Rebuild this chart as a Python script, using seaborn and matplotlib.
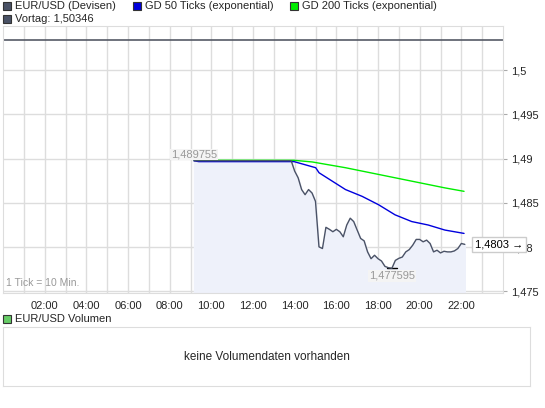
import numpy as np
import pandas as pd
import seaborn as sns
import matplotlib.pyplot as plt
from matplotlib.patches import Rectangle
from matplotlib.ticker import FuncFormatter

# Kurs EUR/USD, 10-Minuten-Ticks ab 09:10
start_stunde = 9 + 10 / 60
kurs = [1.489755] * 29 + [
    1.48859, 1.48783, 1.48650, 1.48592, 1.48650, 1.48611, 1.48516, 1.48002,
    1.47983, 1.48223, 1.48200, 1.48173, 1.48200, 1.48173, 1.48116, 1.48249,
    1.48326, 1.48288, 1.48192, 1.48097, 1.48070, 1.47945, 1.47868, 1.47907,
    1.47868, 1.47842, 1.47781, 1.47766, 1.477595, 1.47849, 1.47872, 1.47887,
    1.47945, 1.47971, 1.48021, 1.48086, 1.48086, 1.48059, 1.48078, 1.48040,
    1.47945, 1.47964, 1.47933, 1.47952, 1.47945, 1.47945, 1.47956, 1.47983,
    1.48040, 1.4803,
]
gd50_zeit = [9.17, 9.4, 13.97, 15.01, 15.17, 16.44, 17.24, 18.03, 18.82, 19.62, 20.41, 21.21, 22.13]
gd50_wert = [1.48975, 1.48966, 1.48966, 1.48897, 1.48840, 1.48650, 1.48573, 1.48478,
             1.48364, 1.48288, 1.48249, 1.48192, 1.48154]
gd200_zeit = [9.17, 13.97, 14.85, 16.44, 18.03, 19.62, 21.21, 22.13]
gd200_wert = [1.48981, 1.48981, 1.48962, 1.48897, 1.48821, 1.48745, 1.48669, 1.48630]
vortag = 1.50346
y_ticks = [1.475, 1.48, 1.485, 1.49, 1.495, 1.5]
x_ticks = list(range(2, 24, 2))

df = pd.DataFrame({"Zeit": start_stunde + np.arange(len(kurs)) / 6, "Kurs": kurs})

sns.set_style("white")
plt.rcParams["font.family"] = ["Liberation Sans", "DejaVu Sans"]
W, H = 545, 408
fig = plt.figure(figsize=(W / 100, H / 100), dpi=100)

def box(l, t, r, b):
    return [l / W, 1 - b / H, (r - l) / W, (b - t) / H]

ax = fig.add_axes(box(3, 26, 503, 293))
ax.set_xlim(0, 24)
ax.set_ylim(1.4748, 1.5050)
for h in range(1, 24):
    ax.axvline(h, color="#dddddd", lw=1, zorder=0)
for y in y_ticks:
    ax.axhline(y, color="#dddddd", lw=1, zorder=0)
ax.fill_between(df["Zeit"], df["Kurs"], 1.4748, color="#eef1fa", zorder=1)
ax.axhline(vortag, color="#555a66", lw=1.2, zorder=2)
sns.lineplot(x=gd200_zeit, y=gd200_wert, color="#00ee00", lw=1, ax=ax, zorder=3)
sns.lineplot(x=gd50_zeit, y=gd50_wert, color="#0000dd", lw=1, ax=ax, zorder=4)
sns.lineplot(data=df, x="Zeit", y="Kurs", color="#4a5266", lw=1, ax=ax, zorder=5)

for s in ax.spines.values():
    s.set_color("#dddddd")
ax.yaxis.tick_right()
ax.set_yticks(y_ticks)
ax.yaxis.set_major_formatter(FuncFormatter(lambda v, p: f"{v:g}".replace(".", ",")))
ax.set_xticks(x_ticks)
ax.set_xticklabels([f"{h:02d}:00" for h in x_ticks])
ax.tick_params(labelsize=8, length=3, color="#aaaaaa", pad=3)
ax.set_xlabel("")
ax.set_ylabel("")

# Markierungen
ax.text(df["Zeit"].iloc[0], 1.4899, "1,489755", fontsize=8, color="#999999",
        ha="center", va="bottom", bbox=dict(fc="#f4f4f4", ec="none", pad=0.5))
i_min = int(np.argmin(kurs))
ax.plot([df["Zeit"][i_min] - 0.25, df["Zeit"][i_min] + 0.25], [kurs[i_min]] * 2, color="black", lw=1)
ax.text(df["Zeit"][i_min], kurs[i_min] - 0.0003, "1,477595", fontsize=8, color="#999999",
        ha="center", va="top", bbox=dict(fc="#f4f4f4", ec="none", pad=0.5))
ax.text(22.65, kurs[-1], "1,4803 \u2192", fontsize=8, color="black", ha="left", va="center",
        bbox=dict(fc="white", ec="#cccccc", pad=2), clip_on=False, zorder=10)
ax.text(0.15, 1.4756, "1 Tick = 10 Min.", fontsize=7.5, color="#999999")

# Legende oben
def legende(x, y, farbe, text):
    fig.patches.append(Rectangle((x / W, 1 - (y + 4) / H), 8 / W, 8 / H, fc=farbe, ec="#333333",
                                 lw=0.8, transform=fig.transFigure))
    fig.text((x + 12) / W, 1 - y / H, text, fontsize=8, va="center")

legende(3, 6, "#4a5266", "EUR/USD (Devisen)")
legende(133, 6, "#0000dd", "GD 50 Ticks (exponential)")
legende(290, 6, "#00ee00", "GD 200 Ticks (exponential)")
legende(3, 19, "#4a5266", "Vortag: 1,50346")
legende(3, 319, "#66cc66", "EUR/USD Volumen")

# Volumen-Panel
vax = fig.add_axes(box(3, 327, 530, 386))
vax.set_xticks([])
vax.set_yticks([])
for s in vax.spines.values():
    s.set_color("#dddddd")
vax.text(0.5, 0.5, "keine Volumendaten vorhanden", fontsize=8.5, ha="center", va="center",
         transform=vax.transAxes)

fig.savefig("out.png", dpi=100)
